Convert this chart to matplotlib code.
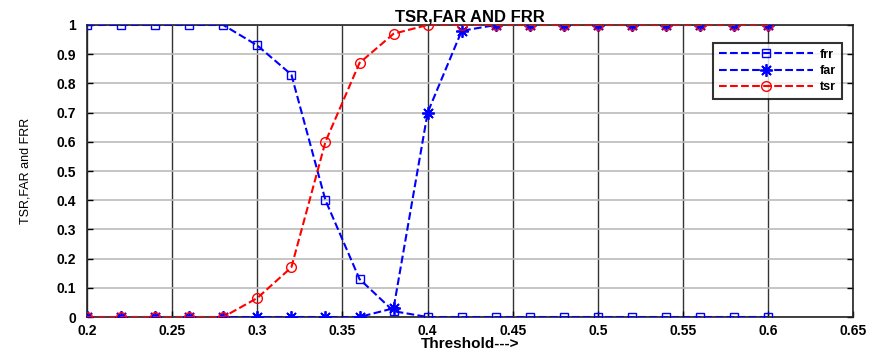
import matplotlib
matplotlib.use("Agg")
import matplotlib.pyplot as plt
import numpy as np

thresholds = [0.20, 0.22, 0.24, 0.26, 0.28, 0.30, 0.32, 0.34, 0.36, 0.38, 0.40,
              0.42, 0.44, 0.46, 0.48, 0.50, 0.52, 0.54, 0.56, 0.58, 0.60]
frr = [1, 1, 1, 1, 1, 0.93, 0.83, 0.40, 0.13, 0.02, 0,
       0, 0, 0, 0, 0, 0, 0, 0, 0, 0]
far = [0, 0, 0, 0, 0, 0, 0, 0, 0, 0.03, 0.70,
       0.98, 1, 1, 1, 1, 1, 1, 1, 1, 1]
tsr = [0, 0, 0, 0, 0, 0.065, 0.17, 0.60, 0.87, 0.97, 1.0,
       1, 1, 1, 1, 1, 1, 1, 1, 1, 1]
xticks = [0.2, 0.25, 0.3, 0.35, 0.4, 0.45, 0.5, 0.55, 0.6, 0.65]
xticklabels = ["0.2", "0.25", "0.3", "0.35", "0.4", "0.45", "0.5", "0.55", "0.6", "0.65"]
yticks = [0, 0.1, 0.2, 0.3, 0.4, 0.5, 0.6, 0.7, 0.8, 0.9, 1]
yticklabels = ["0", "0.1", "0.2", "0.3", "0.4", "0.5", "0.6", "0.7", "0.8", "0.9", "1"]

plt.rcParams['font.family'] = ['Liberation Sans', 'DejaVu Sans']

fig = plt.figure(figsize=(8.75, 3.52), dpi=100)
ax = fig.add_axes([0.0994, 0.0994, 0.8760, 0.8296])

ax.plot(thresholds, frr, linestyle='--', color='#0000ff', marker='s', markersize=6,
        markerfacecolor='none', markeredgecolor='#0000ff', linewidth=1.5, label='frr', zorder=3)
ax.plot(thresholds, far, linestyle='--', color='#0000ff', marker=(8, 2, 0), markersize=9,
        markeredgewidth=1.3, markeredgecolor='#0000ff', linewidth=1.5, label='far', zorder=3)
ax.plot(thresholds, tsr, linestyle='--', color='#ff0000', marker='o', markersize=7,
        markerfacecolor='none', markeredgecolor='#ff0000', linewidth=1.5, label='tsr', zorder=3)

ax.set_xlim(0.2, 0.65)
ax.set_ylim(0, 1)
ax.set_xticks(xticks)
ax.set_xticklabels(xticklabels)
ax.set_yticks(yticks)
ax.set_yticklabels(yticklabels)

ax.xaxis.grid(True, color='#333333', linewidth=1.0)
ax.yaxis.grid(True, color='#bbbbbb', linewidth=1.2)
ax.set_axisbelow(True)

ax.tick_params(direction='in', length=4, width=1, labelsize=10, right=True, top=False)
ax.tick_params(axis='x', pad=5)
ax.tick_params(axis='y', pad=8)
for lab in ax.get_xticklabels() + ax.get_yticklabels():
    lab.set_fontweight('bold')
for sp in ax.spines.values():
    sp.set_linewidth(1.2)
    sp.set_color('#222222')

ax.set_title("TSR,FAR AND FRR", fontsize=12, fontweight='bold', pad=2)
ax.set_xlabel("Threshold--->", fontsize=11, fontweight='bold', labelpad=-1)
ax.set_ylabel("TSR,FAR and FRR", fontsize=9, labelpad=18)

leg = ax.legend(loc='upper right', bbox_to_anchor=(0.993, 0.96),
                frameon=True, fancybox=False, edgecolor='black', handlelength=7.5,
                borderpad=0.45, labelspacing=0.35, handletextpad=0.6,
                prop={'weight': 'bold', 'size': 9})
leg.get_frame().set_linewidth(1.5)

fig.savefig("out.png", dpi=100)
